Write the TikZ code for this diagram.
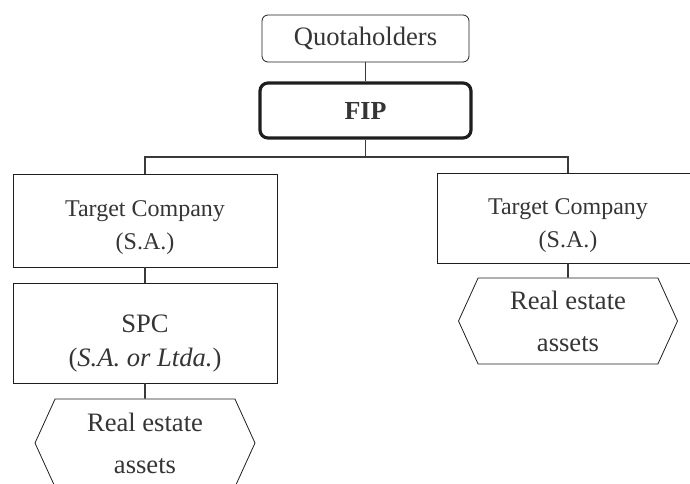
\documentclass[tikz,border=0pt]{standalone}
\usepackage{fontspec}
\setmainfont{Liberation Serif}
\usetikzlibrary{shapes.symbols}
\definecolor{ink}{HTML}{1E1E1E}
\definecolor{wire}{HTML}{3A3A3A}
\tikzset{line width=1pt,
  every node/.style={font=\fontsize{13.3}{17}\selectfont,text=ink!90,align=center},
  entity/.style={draw=ink,rectangle,inner sep=0pt},
  holder/.style={entity,rounded corners=3pt},
  fund/.style={entity,rounded corners=4pt,line width=1.6pt,font=\fontsize{13}{16}\selectfont\bfseries},
  target/.style={entity,text height=29pt,text depth=0pt,font=\fontsize{12}{16.5}\selectfont},
  asset/.style={draw=ink,signal,signal to=west and east,signal pointer angle=131,inner sep=0pt,
    font=\fontsize{13.3}{21}\selectfont},
  link/.style={draw=wire,line width=.8pt}}
\begin{document}
\begin{tikzpicture}[x=.5pt,y=-.5pt]
\useasboundingbox(0,0)rectangle(690,483);
\node[holder,minimum width=103.5pt,minimum height=23.5pt](quota)at(365.5,38.5){Quotaholders};
\node[fund,minimum width=105.5pt,minimum height=27.5pt](fip)at(365.5,110.5){FIP};
\node[target,minimum width=132pt,minimum height=46.5pt](tcl)at(145,220.5){Target Company\\(S.A.)};
\node[entity,text height=33pt,text depth=0pt,minimum width=132pt,minimum height=50pt](spc)at(145,333){SPC\\(\textit{S.A. or Ltda.})};
\node[asset,minimum width=110pt,minimum height=44pt](hexl)at(145,443){Real estate\\assets};
\node[target,minimum width=131pt,minimum height=45pt](tcr)at(568,218){Target Company\\(S.A.)};
\node[asset,minimum width=109.5pt,minimum height=43pt](hexr)at(568,321){Real estate\\assets};
\coordinate(bar)at(365.5,157);
% tree connectors
\draw[link](quota)--(fip);\draw[link](fip)--(bar);
\draw[link](tcl.north)|-(bar)-|(tcr.north);
\draw[link](tcl)--(spc);\draw[link](spc)--(hexl);\draw[link](tcr)--(hexr);
\end{tikzpicture}
\end{document}
